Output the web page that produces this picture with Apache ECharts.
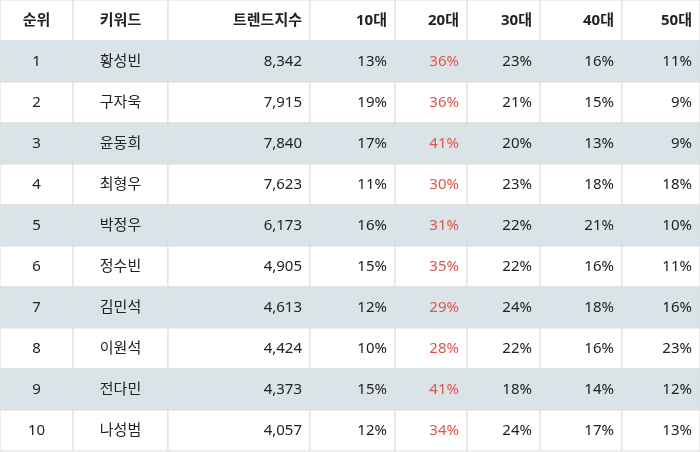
<!DOCTYPE html>
<html><head><meta charset="utf-8">
<script src="https://cdn.jsdelivr.net/npm/echarts@6/dist/echarts.min.js"></script>
<style>html,body{margin:0;padding:0;background:#fff}#c{width:700px;height:452px}</style>
</head><body><div id="c"></div>
<script>
// table data
const headers = ['순위', '키워드', '트렌드지수', '10대', '20대', '30대', '40대', '50대'];
const ranks = [1, 2, 3, 4, 5, 6, 7, 8, 9, 10];
const keywords = ['황성빈', '구자욱', '윤동희', '최형우', '박정우', '정수빈', '김민석', '이원석', '전다민', '나성범'];
const trend = [8342, 7915, 7840, 7623, 6173, 4905, 4613, 4424, 4373, 4057];
const age10 = [13, 19, 17, 11, 16, 15, 12, 10, 15, 12];
const age20 = [36, 36, 41, 30, 31, 35, 29, 28, 41, 34];
const age30 = [23, 21, 20, 23, 22, 22, 24, 22, 18, 24];
const age40 = [16, 15, 13, 18, 21, 16, 18, 16, 14, 17];
const age50 = [11, 9, 9, 18, 10, 11, 16, 23, 12, 13];

// column layout
const edges = [0, 73, 168, 310, 395, 467, 540, 622, 700];
const aligns = ['center', 'center', 'right', 'right', 'right', 'right', 'right', 'right'];

const cells = [];
headers.forEach((h, c) => cells.push({ value: [c, 0], text: h, header: true }));
ranks.forEach((r, i) => {
  const row = i + 1;
  const vals = [String(r), keywords[i], trend[i].toLocaleString('en-US'),
    age10[i] + '%', age20[i] + '%', age30[i] + '%', age40[i] + '%', age50[i] + '%'];
  vals.forEach((v, c) => cells.push({ value: [c, row], text: v, red: c === 4 }));
});

const chart = echarts.init(document.getElementById('c'));
chart.setOption({
  animation: false,
  grid: { left: 0, right: 0, top: 0, bottom: 1 },
  xAxis: { type: 'value', min: 0, max: 700, show: false },
  yAxis: { type: 'value', min: 0, max: 11, inverse: true, show: false },
  series: [{
    type: 'custom',
    data: cells,
    renderItem: function (params, api) {
      const c = api.value(0), r = api.value(1);
      const p0 = api.coord([edges[c], r]);
      const p1 = api.coord([edges[c + 1], r + 1]);
      const cell = cells[params.dataIndex];
      const fill = (r % 2 === 1) ? '#dae4e8' : '#ffffff';
      const al = aligns[c];
      const tx = al === 'center' ? (p0[0] + p1[0]) / 2 : p1[0] - 8;
      return {
        type: 'group',
        children: [{
          type: 'rect',
          shape: { x: p0[0], y: p0[1], width: p1[0] - p0[0], height: p1[1] - p0[1] },
          style: { fill: fill, stroke: '#dddddd', lineWidth: 1 }
        }, {
          type: 'text',
          style: {
            x: tx, y: (p0[1] + p1[1]) / 2,
            text: cell.text, align: al, verticalAlign: 'middle',
            fontFamily: '"Noto Sans", "Noto Sans CJK KR"', fontSize: 15,
            fontWeight: cell.header ? 'bold' : 'normal',
            fill: cell.red ? '#e0554a' : '#222222'
          }
        }]
      };
    }
  }]
});
</script></body></html>
